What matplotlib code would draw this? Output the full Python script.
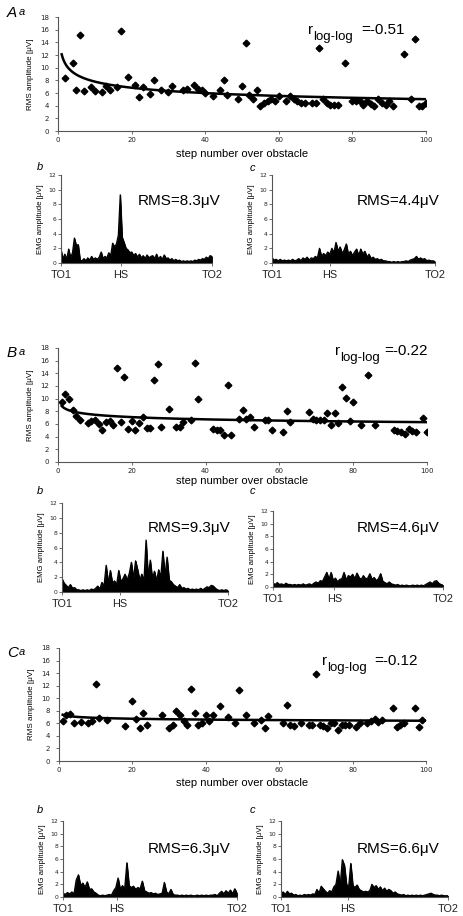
import numpy as np
import matplotlib
matplotlib.use("Agg")
import matplotlib.pyplot as plt

plt.rcParams['font.family'] = ['Liberation Sans', 'DejaVu Sans']

W, H = 463, 916

# ---------------- data ----------------
A_step = [2,4,5,6,7,9,10,12,13,14,16,17,19,21,22,23,25,26,28,30,31,34,35,37,38,39,40,42,44,45,46,49,50,51,52,53,54,55,56,57,58,59,60,62,63,64,65,66,67,69,70,71,72,73,74,75,76,78,80,81,82,83,84,85,86,87,88,89,90,91,94,96,97,98,99,100]
A_rms = [8.4,10.8,6.5,15.2,6.3,6.9,6.3,6.1,7.1,6.4,7.0,15.8,8.5,7.3,5.3,7.0,5.8,8.0,6.4,6.1,7.1,6.4,6.7,7.3,6.6,6.5,6.0,5.6,6.4,8.0,5.7,5.1,7.1,13.9,5.7,5.0,6.4,4.0,4.4,4.8,5.1,4.7,5.5,4.8,5.6,5.0,4.7,4.4,4.4,4.5,4.4,13.1,5.1,4.5,4.1,4.1,4.1,10.7,4.8,4.7,4.8,4.1,4.8,4.3,4.0,5.0,4.5,4.1,4.7,4.0,12.1,5.1,14.6,4.0,3.9,4.4]

B_step = [1,2,3,4,5,6,8,9,10,11,12,13,14,15,16,17,18,19,20,21,22,23,24,25,26,27,28,30,32,33,34,36,37,38,42,43,44,45,46,47,49,50,51,52,53,56,57,58,61,62,63,68,69,70,71,72,73,74,75,76,77,78,79,80,82,84,86,91,92,93,94,95,96,97,99,100]
B_rms = [9.4,10.7,9.9,8.2,7.2,6.6,6.1,6.4,6.6,6.0,5.0,6.3,6.4,5.9,14.9,6.3,13.5,5.2,6.5,5.1,6.2,7.1,5.4,5.3,12.9,15.5,5.5,8.3,5.6,5.6,6.3,6.7,15.6,10.0,5.2,5.1,5.0,4.3,12.2,4.2,6.8,8.2,6.8,7.1,5.5,6.7,6.7,5.1,4.7,8.1,6.3,7.9,6.8,6.7,6.7,6.7,7.8,5.9,7.8,6.2,11.9,10.1,6.4,9.4,5.8,13.8,5.8,5.1,4.9,4.7,4.5,5.2,4.9,4.7,6.9,4.7]

C_step = [1,2,3,4,6,8,9,10,11,13,18,20,21,22,23,24,28,30,31,32,33,34,35,36,37,38,39,40,41,42,44,46,48,49,51,53,55,56,57,61,62,63,64,66,68,69,70,71,72,73,74,75,76,77,78,79,81,82,84,85,86,87,88,91,92,93,94,97,98,99]
C_rms = [6.3,7.4,7.5,6.1,6.2,6.1,6.3,12.2,6.9,6.6,5.6,9.5,6.7,5.2,7.7,5.7,7.3,5.2,5.7,7.9,7.3,6.3,5.8,11.5,7.7,5.7,6.1,7.3,6.3,7.3,8.8,7.0,6.0,11.3,7.4,6.0,6.6,5.3,7.1,6.0,8.9,5.8,5.5,6.1,5.8,5.8,13.9,5.8,5.5,5.3,6.1,6.1,4.9,5.8,5.8,5.8,5.4,6.1,6.1,6.3,6.7,6.2,6.6,8.5,5.4,5.8,6.0,8.4,5.4,6.5]

r_text = ["=-0.51", "=-0.22", "=-0.12"]

# EMG envelopes (µV), evenly sampled from TO1 to TO2
A_b = [1.8,0.6,1.2,0.5, 1.9,0.7,1.4,3.4, 2.4,2.5,0.4,0.3, 0.6,0.3,0.7,0.4, 0.9,0.5,0.7,0.5,
       0.8,1.5,0.6,0.9, 0.7,1.4,1.0,2.7, 2.2,2.6,3.8,9.3, 3.5,2.8,2.0,1.8, 1.4,1.5,1.0,1.3,
       0.8,1.2,0.7,1.0, 0.6,1.1,0.7,0.9, 1.0,0.6,1.2,0.5, 0.9,0.5,1.1,0.6, 0.7,0.4,0.6,0.3,
       0.5,0.3,0.4,0.2, 0.3,0.2,0.3,0.2, 0.3,0.2,0.4,0.3, 0.5,0.4,0.6,0.5, 0.8,0.6,1.0,0.9]
A_c = [0.7,0.4,0.5,0.3, 0.5,0.3,0.4,0.3, 0.4,0.3,0.5,0.3, 0.4,0.6,0.3,0.7, 0.5,0.8,0.4,0.7,
       0.6,0.9,0.7,2.0, 0.9,1.3,1.0,1.5, 1.2,2.0,1.4,2.8, 1.6,2.2,1.3,1.8, 2.6,1.2,1.6,1.0,
       1.5,1.9,1.0,1.9, 1.2,1.6,0.8,1.2, 0.6,0.8,0.5,0.6, 0.4,0.5,0.3,0.3, 0.2,0.2,0.1,0.2,
       0.1,0.2,0.1,0.2, 0.2,0.3,0.2,0.4, 0.5,0.6,0.9,0.5, 0.7,0.5,0.6,0.3, 0.4,0.3,0.3,0.2]
B_b = [1.8,1.2,0.9,0.6, 1.0,0.5,0.6,0.3, 0.3,0.2,0.3,0.2, 0.3,0.2,0.4,0.3, 0.5,0.8,0.4,1.3,
       0.8,3.6,1.2,2.9, 1.2,1.5,1.0,2.9, 1.4,1.8,2.4,1.6, 2.5,4.0,1.8,4.2, 3.0,1.6,2.4,1.5,
       7.0,2.0,4.3,1.8, 2.8,1.5,3.0,2.0, 5.5,2.2,4.7,1.6, 1.4,1.0,0.8,0.6, 1.0,0.5,0.6,0.4,
       0.5,0.3,0.4,0.3, 0.4,0.3,0.5,0.3, 0.5,0.7,0.6,0.9, 0.8,0.5,0.3,0.2, 0.3,0.2,0.3,0.2]
B_c = [0.6,0.4,0.7,0.4, 0.5,0.3,0.6,0.4, 0.4,0.3,0.4,0.3, 0.4,0.3,0.5,0.3, 0.4,0.5,0.3,0.6,
       0.8,0.6,1.0,0.9, 1.6,2.3,1.2,2.3, 1.0,1.4,0.8,1.2, 1.3,2.3,1.1,1.8, 1.6,2.0,1.3,2.2,
       1.5,1.2,1.8,1.3, 1.4,2.1,1.2,1.5, 1.0,1.3,2.1,0.9, 0.7,0.5,0.8,0.5, 0.4,0.3,0.4,0.2,
       0.3,0.2,0.3,0.2, 0.2,0.3,0.2,0.3, 0.2,0.3,0.2,0.4, 0.6,0.8,0.5,0.9, 1.0,0.6,0.4,0.3]
C_b = [0.6,0.4,0.7,0.5, 0.8,0.5,2.7,3.5, 1.8,2.2,1.5,2.4, 1.2,1.3,0.8,0.6, 0.3,0.2,0.3,0.2,
       0.3,0.4,0.3,1.0, 1.5,3.0,1.2,1.8, 1.3,5.4,1.8,1.5, 1.7,1.2,1.5,1.3, 2.5,1.0,0.8,0.6,
       0.7,0.5,0.6,0.4, 0.5,0.6,2.3,0.8, 0.5,1.2,0.4,0.3, 0.3,0.2,0.3,0.2, 0.3,0.2,0.3,0.2,
       0.2,0.3,0.2,0.3, 0.2,0.3,0.2,0.3, 0.3,0.4,0.2,0.6, 0.9,0.5,1.0,0.6, 1.1,0.5,1.3,0.6]
C_c = [0.5,0.8,0.4,0.9, 0.5,0.6,0.3,0.4, 0.2,0.3,0.2,0.4, 0.3,0.4,0.3,0.5, 0.4,1.2,0.6,1.7,
       1.3,0.9,0.6,1.0, 0.8,1.6,2.0,4.1, 1.8,5.9,5.0,2.0, 1.6,5.3,1.8,1.5, 1.9,1.2,1.0,0.8,
       0.9,0.8,1.0,2.0, 1.5,1.8,1.2,1.6, 1.0,1.4,0.9,1.2, 1.0,0.6,0.8,0.5, 0.4,0.3,0.4,0.2,
       0.3,0.2,0.3,0.2, 0.3,0.2,0.3,0.2, 0.3,0.4,0.5,0.6, 0.4,0.3,0.3,0.2, 0.3,0.2,0.2,0.2]

rms_b = ["RMS=8.3\u03bcV", "RMS=9.3\u03bcV", "RMS=6.3\u03bcV"]
rms_c = ["RMS=4.4\u03bcV", "RMS=4.6\u03bcV", "RMS=6.6\u03bcV"]
hs_b = [0.395, 0.35, 0.31]
hs_c = [0.356, 0.36, 0.40]
emg_ticks = [0, 2, 4, 6, 8, 10, 12]
main_ticks_y = [0, 2, 4, 6, 8, 10, 12, 14, 16, 18]
main_ticks_x = [0, 20, 40, 60, 80, 100]

# ---------------- layout ----------------
fig = plt.figure(figsize=(W / 100, H / 100), dpi=100)
fig.patch.set_facecolor('white')

def add_ax(l, r, t, b):
    return fig.add_axes([l / W, 1 - b / H, (r - l) / W, (b - t) / H])

def ftext(x, y, s, **kw):
    fig.text(x / W, 1 - y / H, s, **kw)

AXC = '#555555'

def style(ax):
    for s in ['top', 'right']:
        ax.spines[s].set_visible(False)
    for s in ['left', 'bottom']:
        ax.spines[s].set_color(AXC)
        ax.spines[s].set_linewidth(0.8)
    ax.tick_params(colors=AXC, labelcolor='#222222', width=0.6)

main_boxes = [(58, 426, 17, 131), (58, 427, 348, 462), (59, 426, 648, 761)]
b_boxes = [(61, 212, 175, 263), (62, 228, 503, 592), (63, 237, 821, 897)]
c_boxes = [(272, 435, 175, 263), (273, 443, 511, 587), (281, 448, 821, 897)]
steps = [A_step, B_step, C_step]
rmsv = [A_rms, B_rms, C_rms]
b_env = [A_b, B_b, C_b]
c_env = [A_c, B_c, C_c]
letters = ["A", "B", "C"]
letter_pos = [(7, 17), (7, 357), (7, 657)]
r_pos = [(308, 34), (335, 355), (322, 665)]
r_eq = [53, 49, 52]
xl_y = [157, 484, 786]
bc_lab = [(170, 171), (494, 494), (813, 813)]
rms_y = [205, 532, 853]

for k in range(3):
    ax = add_ax(*main_boxes[k])
    style(ax)
    x = np.array(steps[k], float)
    y = np.array(rmsv[k], float)
    ax.plot(x, y, linestyle='none', marker='D', ms=3.4, color='black', mec='black')
    # power-law (log-log) trendline fitted to the data
    bcoef, acoef = np.polyfit(np.log(x), np.log(y), 1)
    xf = np.linspace(1, 100, 300)
    ax.plot(xf, np.exp(acoef) * xf ** bcoef, color='black', lw=1.8)
    ax.set_xlim(0, 100)
    ax.set_ylim(0, 18)
    ax.set_yticks(main_ticks_y)
    ax.set_xticks(main_ticks_x)
    ax.tick_params(axis='both', labelsize=5, length=2.5)
    ax.tick_params(axis='x', pad=2)
    ax.tick_params(axis='y', pad=4)
    for lab in ax.get_xticklabels() + ax.get_yticklabels():
        lab.set_family('DejaVu Sans')
    ax.set_ylabel("RMS amplitude [\u03bcV]", fontsize=5.8, labelpad=4)
    ftext(242, xl_y[k], "step number over obstacle", fontsize=8, ha='center', va='baseline')
    lx, ly = letter_pos[k]
    ftext(lx, ly, letters[k], fontsize=11, style='italic', va='baseline')
    ftext(lx + 12, ly - 2, "a", fontsize=8, style='italic', va='baseline')
    rx, ry = r_pos[k]
    ftext(rx, ry, "r", fontsize=11, va='baseline')
    ftext(rx + 5, ry + 6, "log-log", fontsize=9.5, va='baseline')
    ftext(rx + r_eq[k], ry, r_text[k], fontsize=11, va='baseline')

    for side, boxes, envs, hs, rt, lab in [('b', b_boxes, b_env, hs_b, rms_b, 'b'),
                                            ('c', c_boxes, c_env, hs_c, rms_c, 'c')]:
        l, r, t, bt = boxes[k]
        ex = add_ax(l, r, t, bt)
        style(ex)
        env = np.array(envs[k], float)
        xs = np.linspace(0, 1, len(env))
        ex.fill_between(xs, 0, env, color='black', lw=0.6)
        ex.plot(xs, env, color='black', lw=0.9)
        ex.set_xlim(0, 1)
        ex.set_ylim(0, 12)
        ex.set_yticks(emg_ticks)
        ex.set_xticks([0, hs[k], 1])
        ex.set_xticklabels(["TO1", "HS", "TO2"])
        ex.tick_params(axis='y', labelsize=4.3, length=2, pad=1.5)
        ex.tick_params(axis='x', labelsize=7.8, length=2, pad=3)
        for tl in ex.get_yticklabels():
            tl.set_family('DejaVu Sans')
        ex.set_ylabel("EMG amplitude [\u03bcV]", fontsize=5.6, labelpad=3)
        yy = bc_lab[k][0] if side == 'b' else bc_lab[k][1]
        xx = 37 if side == 'b' else 250
        ftext(xx, yy, lab, fontsize=8, style='italic', va='baseline')
        rx0 = 148 if side == 'b' else 357
        if k == 0 and side == 'b':
            rx0 = 138
        ftext(rx0, rms_y[k], rt[k], fontsize=11, va='baseline')

fig.savefig("out.png", dpi=100, facecolor='white')
